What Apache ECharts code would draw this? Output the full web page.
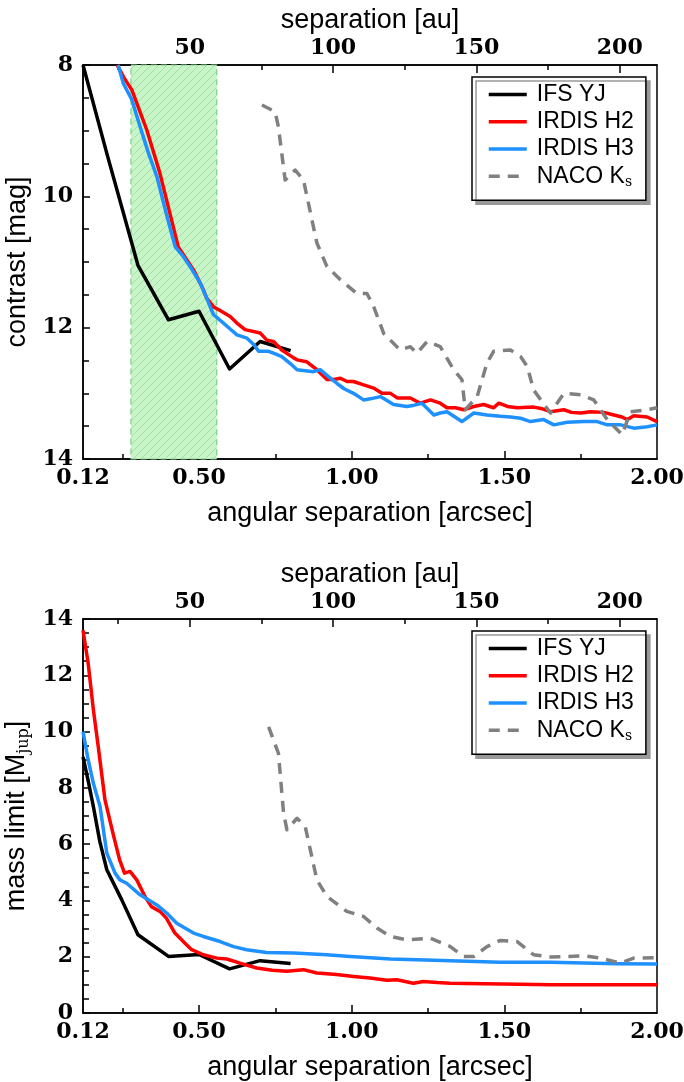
<!DOCTYPE html>
<html><head><meta charset="utf-8">
<script src="https://cdn.jsdelivr.net/npm/echarts@6/dist/echarts.min.js"></script>
<style>html,body{margin:0;padding:0;background:#fff}#c{width:684px;height:1082px}</style>
</head><body><div id="c"></div>
<script>
// ---------- axes ----------
const AU_PER_ARCSEC = 106.5;
const sepMin = 0.12, sepMax = 2.0;
const sepLabels = [0.12, 0.5, 1.0, 1.5, 2.0];
const sepMajorTicks = [0.5, 1.0, 1.5];
const sepMinorTicks = [0.25, 0.75, 1.25, 1.75];
const auLabels = [50, 100, 150, 200];
const auMinorTicks = [25, 75, 125, 175];
const shadedRange = [0.277, 0.558];
const seriesNames = ['IFS YJ', 'IRDIS H2', 'IRDIS H3', 'NACO Ks'];

// ---------- contrast panel (arcsec, mag) ----------
const ifsSepC = [0.12, 0.20, 0.30, 0.40, 0.50, 0.60, 0.70, 0.80];
const ifsContrast = [8.0, 9.38, 11.05, 11.88, 11.75, 12.63, 12.21, 12.35];

const h2SepC = [0.232,0.255,0.280,0.329,0.372,0.432,0.482,0.514,0.525,0.547,0.569,0.602,0.624,0.651,0.700,0.722,0.744,0.771,0.810,0.821,0.853,0.886,0.919,0.941,0.963,0.985,1.006,1.039,1.072,1.099,1.127,1.149,1.192,1.225,1.258,1.290,1.312,1.340,1.367,1.400,1.432,1.465,1.482,1.510,1.542,1.596,1.620,1.651,1.695,1.720,1.750,1.782,1.826,1.859,1.885,1.903,1.924,1.968,2.000];
const h2Contrast = [8.00,8.20,8.38,8.99,9.65,10.77,11.12,11.42,11.55,11.68,11.74,11.83,11.93,12.03,12.08,12.19,12.21,12.34,12.46,12.49,12.52,12.64,12.79,12.79,12.77,12.82,12.82,12.87,12.92,13.00,13.00,13.07,13.07,13.15,13.10,13.15,13.22,13.22,13.25,13.20,13.17,13.22,13.15,13.20,13.22,13.21,13.23,13.28,13.25,13.29,13.30,13.28,13.29,13.33,13.36,13.40,13.34,13.36,13.43];

const h3SepC = [0.235,0.252,0.280,0.307,0.335,0.362,0.392,0.422,0.449,0.475,0.504,0.525,0.547,0.580,0.602,0.624,0.657,0.680,0.695,0.728,0.750,0.771,0.800,0.821,0.875,0.897,0.925,0.952,0.975,1.006,1.039,1.065,1.094,1.137,1.181,1.205,1.230,1.269,1.290,1.312,1.361,1.400,1.443,1.487,1.520,1.553,1.586,1.629,1.662,1.706,1.760,1.804,1.837,1.881,1.924,1.968,2.000];
const h3Contrast = [8.00,8.28,8.53,8.94,9.35,9.70,10.25,10.77,10.92,11.10,11.32,11.55,11.80,11.93,12.02,12.11,12.16,12.26,12.36,12.36,12.40,12.44,12.55,12.64,12.67,12.64,12.75,12.85,12.93,13.00,13.10,13.08,13.05,13.17,13.20,13.18,13.15,13.33,13.30,13.28,13.43,13.30,13.33,13.35,13.36,13.38,13.43,13.40,13.48,13.44,13.43,13.43,13.48,13.48,13.53,13.51,13.48];

const nacoSepC = [0.706,0.749,0.760,0.782,0.815,0.842,0.886,0.919,0.963,1.017,1.050,1.072,1.105,1.159,1.192,1.214,1.247,1.290,1.334,1.361,1.372,1.411,1.443,1.465,1.520,1.553,1.575,1.596,1.651,1.695,1.750,1.793,1.837,1.886,1.913,1.968,2.000];
const nacoContrast = [8.61,8.71,8.94,9.75,9.60,9.75,10.71,11.07,11.27,11.48,11.48,11.68,12.09,12.34,12.29,12.39,12.21,12.29,12.64,12.79,13.25,13.05,12.54,12.36,12.34,12.44,12.59,12.95,13.30,13.00,13.02,13.10,13.40,13.63,13.28,13.25,13.22];

// ---------- mass panel (arcsec, M_jup) ----------
const ifsSepM = [0.12,0.137,0.154,0.175,0.198,0.247,0.30,0.40,0.50,0.60,0.70,0.80];
const ifsMass = [9.1,8.25,7.33,6.1,5.09,4.02,2.78,2.01,2.08,1.57,1.86,1.76];

const h2SepM = [0.12,0.137,0.154,0.170,0.192,0.218,0.240,0.256,0.274,0.296,0.323,0.344,0.372,0.393,0.421,0.454,0.476,0.514,0.558,0.591,0.634,0.689,0.740,0.788,0.842,0.886,0.950,1.006,1.060,1.115,1.148,1.202,1.235,1.280,1.323,1.432,1.550,1.651,1.800,2.000];
const h2Mass = [13.6,12.42,10.77,9.46,7.57,6.39,5.44,4.97,5.03,4.73,4.14,3.78,3.61,3.37,2.84,2.48,2.25,2.07,1.95,1.92,1.77,1.60,1.52,1.48,1.54,1.42,1.37,1.30,1.24,1.16,1.18,1.06,1.12,1.08,1.06,1.04,1.02,1.00,1.00,1.00];

const h3SepM = [0.12,0.137,0.154,0.176,0.198,0.225,0.241,0.263,0.307,0.362,0.394,0.427,0.482,0.514,0.569,0.613,0.656,0.721,0.809,0.918,0.995,1.127,1.214,1.323,1.487,1.651,1.869,2.000];
const h3Mass = [10.0,8.99,8.16,7.33,5.68,4.97,4.73,4.61,4.20,3.84,3.55,3.19,2.84,2.72,2.54,2.36,2.25,2.15,2.13,2.07,2.01,1.92,1.89,1.86,1.80,1.80,1.75,1.74];

const nacoSepM = [0.728,0.760,0.777,0.788,0.821,0.848,0.886,0.919,0.984,1.039,1.083,1.127,1.181,1.258,1.323,1.367,1.400,1.443,1.487,1.542,1.596,1.651,1.706,1.760,1.815,1.880,1.924,2.000];
const nacoMass = [10.17,9.23,7.10,6.51,6.92,6.62,4.73,4.14,3.61,3.43,3.02,2.72,2.60,2.66,2.36,2.01,2.01,2.36,2.58,2.54,2.07,1.99,2.01,2.03,1.95,1.77,1.95,1.97];

// ---------- styling helpers ----------
const SERIF = 'DejaVu Serif';
const SANS = 'Liberation Sans';
const tickLabel = {fontFamily: SERIF, fontSize: 22, fontWeight: 'bold', color: '#000'};
const titleStyle = {fontFamily: SANS, fontSize: 27, color: '#000'};
const black = {color: '#000', width: 1.5};
const colors = ['#000000', '#ff0000', '#1e90ff', '#808080'];

function zip(xs, ys) { return xs.map((x, i) => [x, ys[i]]); }

// hatch pattern for the shaded band
const pc = document.createElement('canvas');
pc.width = 8; pc.height = 8;
const g = pc.getContext('2d');
g.fillStyle = '#c8f5c8'; g.fillRect(0, 0, 8, 8);
g.strokeStyle = '#a6dfa6'; g.lineWidth = 1;
g.beginPath(); g.moveTo(0, 8); g.lineTo(8, 0); g.moveTo(-2, 2); g.lineTo(2, -2); g.moveTo(6, 10); g.lineTo(10, 6); g.stroke();

function xAxes(gi) {
  return [
    {type: 'value', gridIndex: gi, position: 'bottom', min: sepMin, max: sepMax,
     axisLine: {show: true, onZero: false, lineStyle: black}, splitLine: {show: false},
     axisTick: {inside: true, length: 8, customValues: sepMajorTicks, lineStyle: black},
     axisLabel: Object.assign({customValues: sepLabels, formatter: v => v.toFixed(2), margin: 8}, tickLabel),
     name: 'angular separation [arcsec]', nameLocation: 'middle', nameGap: 41, nameTextStyle: titleStyle},
    {type: 'value', gridIndex: gi, position: 'bottom', min: sepMin, max: sepMax,
     axisLine: {show: false, onZero: false}, splitLine: {show: false},
     axisTick: {inside: true, length: 5, customValues: sepMinorTicks, lineStyle: black},
     axisLabel: {show: false}},
    {type: 'value', gridIndex: gi, position: 'top', min: sepMin * AU_PER_ARCSEC, max: sepMax * AU_PER_ARCSEC,
     axisLine: {show: true, onZero: false, lineStyle: black}, splitLine: {show: false},
     axisTick: {inside: true, length: 8, customValues: auLabels, lineStyle: black},
     axisLabel: Object.assign({customValues: auLabels, margin: 6}, tickLabel),
     name: 'separation [au]', nameLocation: 'middle', nameGap: 31, nameTextStyle: titleStyle},
    {type: 'value', gridIndex: gi, position: 'top', min: sepMin * AU_PER_ARCSEC, max: sepMax * AU_PER_ARCSEC,
     axisLine: {show: false, onZero: false}, splitLine: {show: false},
     axisTick: {inside: true, length: 5, customValues: auMinorTicks, lineStyle: black},
     axisLabel: {show: false}}
  ];
}

function yAxis(gi, min, max, inverse, name) {
  return {type: 'value', gridIndex: gi, min: min, max: max, interval: 2, inverse: inverse,
    axisLine: {show: true, onZero: false, lineStyle: black},
    axisTick: {inside: true, length: 7, lineStyle: black},
    minorTick: {show: true, splitNumber: 4, length: 6, lineStyle: black},
    splitLine: {show: false}, minorSplitLine: {show: false},
    axisLabel: Object.assign({margin: 10}, tickLabel),
    name: name, nameLocation: 'middle', nameGap: 48, nameRotate: 90,
    nameTextStyle: Object.assign({}, titleStyle, {rich: {
      a: {fontFamily: SANS, fontSize: 27, color: '#000'},
      s: {fontFamily: SERIF, fontSize: 16, color: '#000', padding: [14, 0, 0, 0]}
    }})};
}

function lineSeries(name, idx, data, xi, yi, extra) {
  const s = {name: name, type: 'line', data: data, xAxisIndex: xi, yAxisIndex: yi,
    symbol: 'none', showSymbol: false, smooth: false, clip: true, z: 3,
    lineStyle: {color: colors[idx], width: 3.5, type: idx === 3 ? [11, 8] : 'solid', join: 'round'},
    itemStyle: {color: colors[idx]}};
  return Object.assign(s, extra || {});
}

function legend(top) {
  return {show: true, orient: 'vertical', left: 472, top: top, selectedMode: false,
    itemWidth: 38, itemHeight: 4, itemGap: 4.25, padding: [6, 12, 11, 15],
    backgroundColor: '#fff', borderColor: '#000', borderWidth: 1.5, borderRadius: 0,
    shadowColor: '#999', shadowOffsetX: 4, shadowOffsetY: 4, shadowBlur: 0,
    itemStyle: {opacity: 0, borderWidth: 0},
    lineStyle: {width: 3.5},
    data: seriesNames,
    formatter: n => n === 'NACO Ks' ? '{t|NACO K}{s|s}' : '{t|' + n + '}',
    textStyle: {color: '#000', padding: [0, 0, 0, 5], rich: {
      t: {fontFamily: SANS, fontSize: 23, color: '#000'},
      s: {fontFamily: SERIF, fontSize: 14, color: '#000', padding: [12, 0, 0, 0]}
    }}};
}

const chart = echarts.init(document.getElementById('c'), null, {renderer: 'canvas'});
chart.setOption({
  animation: false,
  backgroundColor: '#fff',
  grid: [
    {left: 83, top: 65, width: 574, height: 394, show: true, borderColor: '#000', borderWidth: 1.5, outerBoundsMode: 'none'},
    {left: 83, top: 619, width: 574, height: 394, show: true, borderColor: '#000', borderWidth: 1.5, outerBoundsMode: 'none'}
  ],
  legend: [legend(77), legend(631)],
  xAxis: xAxes(0).concat(xAxes(1)),
  yAxis: [yAxis(0, 8, 14, true, 'contrast [mag]'),
          yAxis(1, 0, 14, false, '{a|mass limit [M}{s|jup}{a|]}')],
  series: [
    lineSeries('IFS YJ', 0, zip(ifsSepC, ifsContrast), 0, 0, {
      markArea: {silent: true, z: 1, data: [[{xAxis: shadedRange[0]}, {xAxis: shadedRange[1]}]],
        itemStyle: {color: {image: pc, repeat: 'repeat'}, borderColor: '#7ccf8c', borderWidth: 1.2, borderType: [6, 4]},
        label: {show: false}}}),
    lineSeries('IRDIS H2', 1, zip(h2SepC, h2Contrast), 0, 0),
    lineSeries('IRDIS H3', 2, zip(h3SepC, h3Contrast), 0, 0),
    lineSeries('NACO Ks', 3, zip(nacoSepC, nacoContrast), 0, 0),
    lineSeries('IFS YJ', 0, zip(ifsSepM, ifsMass), 4, 1),
    lineSeries('IRDIS H2', 1, zip(h2SepM, h2Mass), 4, 1),
    lineSeries('IRDIS H3', 2, zip(h3SepM, h3Mass), 4, 1),
    lineSeries('NACO Ks', 3, zip(nacoSepM, nacoMass), 4, 1)
  ]
});
</script></body></html>
